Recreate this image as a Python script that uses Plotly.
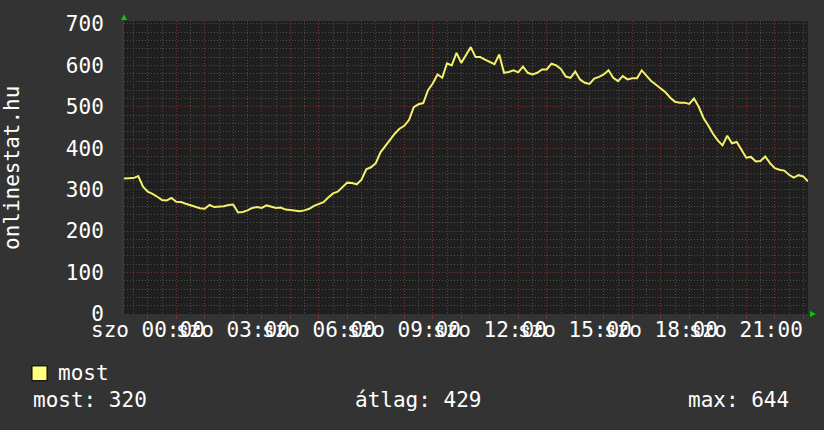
import pandas as pd
import plotly.graph_objects as go

# onlinestat.hu - users online, 10 minute samples, starting fri 23:10
start_time = '2024-03-01 23:10'
sample_step = '10min'
online_users = [
    327, 327, 328, 333, 307, 295, 290, 283, 275, 274,
    280, 271, 270, 266, 262, 259, 255, 254, 263, 258,
    259, 260, 263, 264, 245, 246, 250, 256, 258, 256,
    262, 259, 256, 257, 252, 251, 249, 248, 250, 254,
    261, 265, 270, 281, 291, 295, 306, 317, 316, 313,
    324, 349, 354, 364, 390, 405, 418, 435, 447, 454,
    468, 499, 506, 509, 540, 556, 578, 570, 605, 600,
    630, 606, 625, 644, 620, 620, 614, 608, 603, 626,
    582, 584, 588, 583, 597, 582, 578, 582, 590, 590,
    604, 600, 591, 573, 570, 585, 566, 558, 555, 568,
    572, 578, 588, 570, 562, 574, 566, 569, 569, 588,
    576, 562, 553, 545, 535, 522, 512, 510, 510, 507,
    520, 500, 473, 455, 435, 419, 407, 430, 412, 415,
    396, 377, 379, 368, 369, 380, 364, 352, 348, 346,
    336, 329, 335, 332, 320,
]
label_times = ['00:00', '03:00', '06:00', '09:00', '12:00', '15:00', '18:00', '21:00']
label_day = 'szo'
label_date = '2024-03-02'
y_ticks = [0, 100, 200, 300, 400, 500, 600, 700]
legend_name = 'most'
stats = {'most': 320, 'átlag': 429, 'max': 644}

times = pd.date_range(start_time, periods=len(online_users), freq=sample_step)

MONO = 'DejaVu Sans Mono'
W, H = 824, 430
L, R, T, B = 124, 16, 15, 116
plot_w, plot_h = W - L - R, H - T - B


def px(x):
    return (x - L) / plot_w


def py(y):
    return (H - B - y) / plot_h


fig = go.Figure()
fig.add_trace(go.Scatter(
    x=times, y=online_users, mode='lines',
    line=dict(color='#f4f06a', width=2),
    name=legend_name, showlegend=False, hoverinfo='x+y',
))

grid_minor = '#4c4c4c'
grid_major = '#7a3434'

fig.update_layout(
    width=W, height=H,
    margin=dict(l=L, r=R, t=T, b=B),
    paper_bgcolor='#333333',
    plot_bgcolor='#1f1f1f',
    showlegend=False,
    font=dict(family=MONO, size=21, color='white'),
    xaxis=dict(
        type='date',
        range=[times[0], times[-1]],
        tick0=label_date + ' 00:00', dtick=3600000,
        showticklabels=False,
        ticks='outside', ticklen=4, tickcolor=grid_major,
        showgrid=True, gridcolor=grid_major, griddash='1px,2px', gridwidth=1,
        minor=dict(dtick=1800000, showgrid=True, gridcolor=grid_minor,
                   griddash='1px,2px', ticks=''),
        zeroline=False, showline=False,
    ),
    yaxis=dict(
        range=[0, 707],
        tickvals=y_ticks,
        tickfont=dict(family=MONO, size=21, color='white'),
        ticks='', ticklabelstandoff=14,
        showgrid=True, gridcolor=grid_major, griddash='1px,2px', gridwidth=1,
        minor=dict(dtick=20, showgrid=True, gridcolor=grid_minor,
                   griddash='1px,2px'),
        zeroline=False, showline=True, linecolor='#3a3a3a', linewidth=2,
    ),
)

# rrdtool-style time labels, every 3 hours (they overlap, as in the original)
annotations = []
for t in label_times:
    annotations.append(dict(
        x=pd.Timestamp(label_date + ' ' + t), y=py(330), xref='x', yref='paper',
        text=f'{label_day} {t}', showarrow=False, xanchor='center', yanchor='middle',
        font=dict(family=MONO, size=21, color='white'),
    ))

annotations.append(dict(
    x=px(12), y=py(165), xref='paper', yref='paper', text='onlinestat.hu',
    textangle=-90, showarrow=False, xanchor='center', yanchor='middle',
    font=dict(family=MONO, size=21, color='white'),
))
annotations.append(dict(
    x=px(56), y=py(374), xref='paper', yref='paper', text=legend_name,
    showarrow=False, xanchor='left', yanchor='middle',
    font=dict(family=MONO, size=21, color='white'),
))
stat_pos = {'most': 31, 'átlag': 353, 'max': 686}
for key, val in stats.items():
    annotations.append(dict(
        x=px(stat_pos[key]), y=py(402), xref='paper', yref='paper',
        text=f'{key}: {val}', showarrow=False, xanchor='left', yanchor='middle',
        font=dict(family=MONO, size=21, color='white'),
    ))
fig.update_layout(annotations=annotations)

shapes = [
    # legend swatch
    dict(type='rect', xref='paper', yref='paper',
         x0=px(32), x1=px(47), y0=py(382), y1=py(367),
         fillcolor='#ffff80', line=dict(color='black', width=1)),
    # axis arrows
    dict(type='path', xref='paper', yref='paper', fillcolor='#00cc00', line=dict(width=0),
         path=f'M {px(121)} {py(14)} L {px(127)} {py(14)} L {px(124)} {py(8)} Z'),
    dict(type='path', xref='paper', yref='paper', fillcolor='#00cc00', line=dict(width=0),
         path=f'M {px(810)} {py(311)} L {px(810)} {py(317)} L {px(816)} {py(314)} Z'),
]
fig.update_layout(shapes=shapes)

fig.write_html('out.html', config={'displayModeBar': False},
               post_script="document.body.style.margin='0';")
